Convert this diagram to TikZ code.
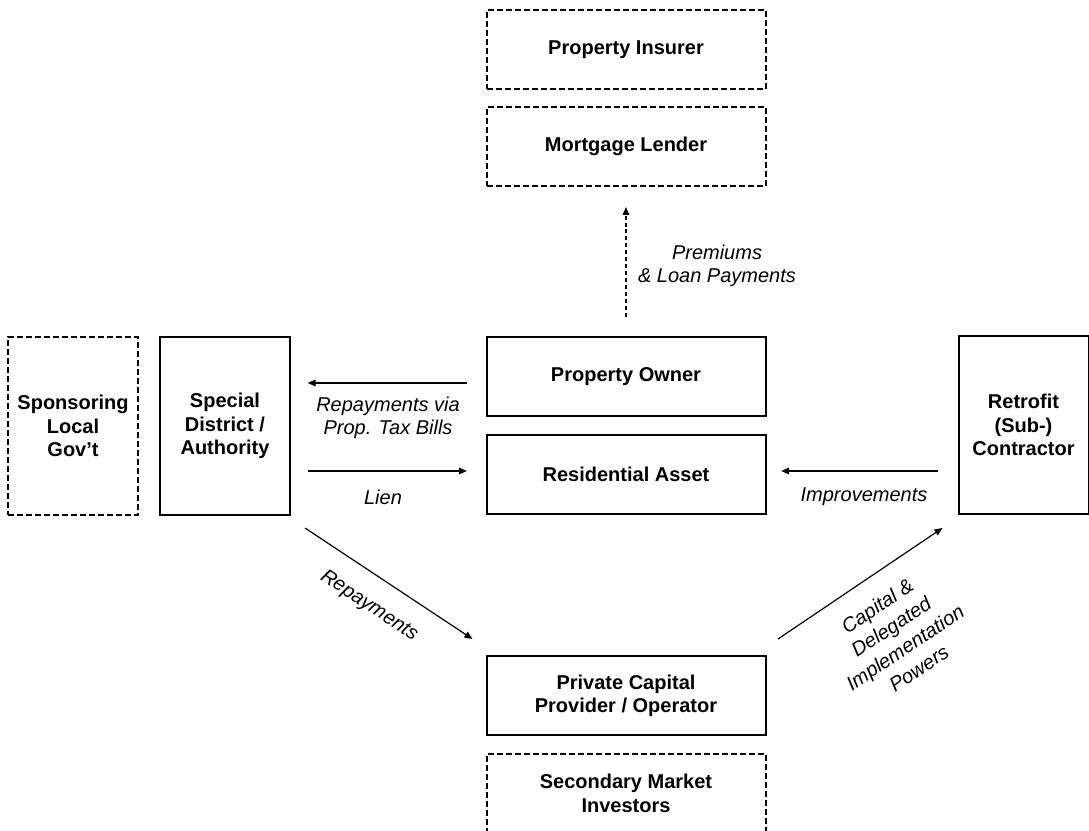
\documentclass[tikz,border=0pt]{standalone}
\usepackage{fontspec}
\setmainfont{Liberation Sans}
\usetikzlibrary{arrows.meta,calc}
\tikzset{
  box/.style={draw, line width=1.5pt, align=center, font=\fontsize{15}{17.5}\selectfont\bfseries, inner sep=2pt},
  dbox/.style={box, dash pattern=on 4.5pt off 2.25pt},
  wide/.style={minimum width=209.25pt, minimum height=59.25pt},
  tall/.style={minimum width=97.5pt, minimum height=133.5pt},
  arr/.style={line width=0.9pt, -{Triangle[length=6pt,width=5pt]}},
  darr/.style={arr, dash pattern=on 3pt off 2.2pt},
  lbl/.style={align=center, font=\fontsize{15}{17.5}\selectfont\itshape, inner sep=0pt}
}
\begin{document}
\begin{tikzpicture}[x=0.75pt,y=-0.75pt]
\useasboundingbox (0,0) rectangle (1089,831);
% boxes
\node[dbox,wide] (pi) at (626,49.5) {Property Insurer};
\node[dbox,wide] (ml) at (626,146.5) {Mortgage Lender};
\node[box,wide] (po) at (626,376.5) {Property Owner};
\node[box,wide] (ra) at (626,474) {Residential Asset};
\node[box,wide] (pc) at (626,695.5) {Private Capital\\Provider / Operator};
\node[dbox,wide] (sm) at (626,793.5) {Secondary Market\\Investors};
\node[dbox,tall] (sl) at (73,426) {Sponsoring\\Local\\Gov’t};
\node[box,tall] (sd) at (225,426) {Special\\District /\\Authority};
\node[box,tall] (rc) at (1023.5,425) {Retrofit\\(Sub-)\\Contractor};
% connectors
\draw[darr, shorten <=14.5pt, shorten >=15pt] (po.north) -- (ml.south);
\draw[arr, shorten <=14pt, shorten >=12.5pt] (po.west |- 0,383) -- (sd.east |- 0,383);
\draw[arr, shorten <=12.5pt, shorten >=14pt] (sd.east |- 0,471) -- (ra.west |- 0,471);
\draw[arr, shorten <=15pt, shorten >=11pt] (rc.west |- 0,471) -- (ra.east |- 0,471);
\draw[arr] ($(sd.south east)+(14,12)$) -- ($(pc.north west)+(-13,-16)$);
\draw[arr] ($(pc.north east)+(11.5,-16)$) -- ($(rc.south west)+(-15,13)$);
% labels
\node[lbl] (l1) at (717,266) {Premiums\\\& Loan Payments};
\node[lbl] (l2) at (388,417.5) {Repayments via\\Prop. Tax Bills};
\node[lbl] (l3) at (383,497) {Lien};
\node[lbl] (l4) at (864,497) {Improvements};
\node[lbl, rotate=-33.5] (l5) at (369,606) {Repayments};
\node[lbl, rotate=33.7, font=\fontsize{15}{18.75}\selectfont\itshape] (l6) at (898,637) {Capital \&\\Delegated\\Implementation\\Powers};
\end{tikzpicture}
\end{document}
